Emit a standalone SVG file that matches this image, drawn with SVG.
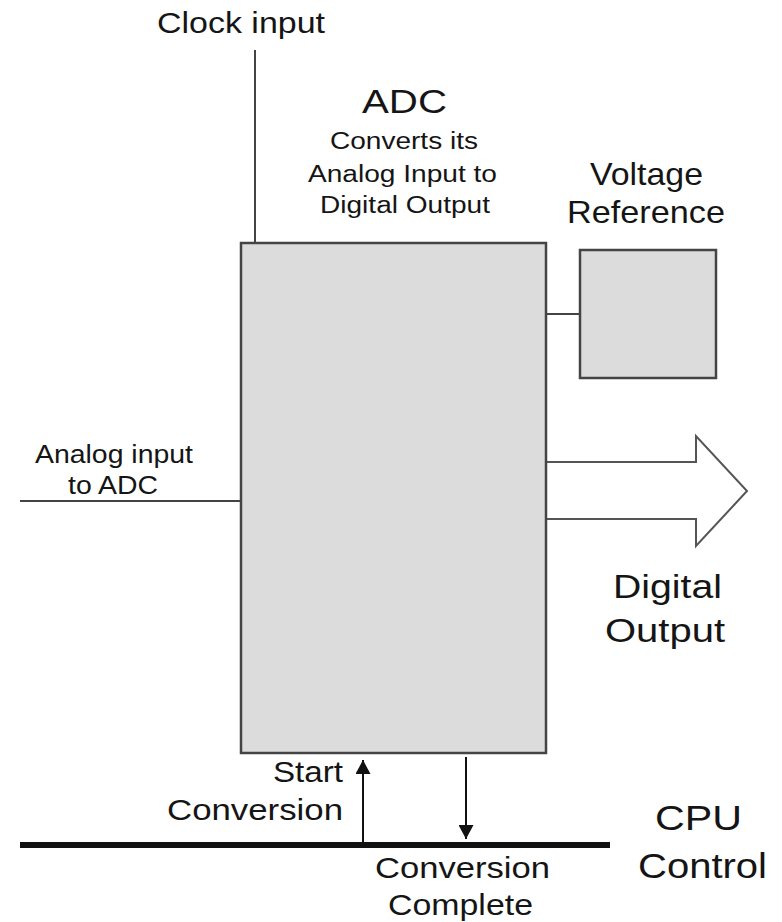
<svg xmlns="http://www.w3.org/2000/svg" width="782" height="922" viewBox="0 0 782 922">
<style>
.t{font-family:"Liberation Sans",Arial,sans-serif;fill:#151515}
.ln{stroke:#444;stroke-width:2;fill:none}
.box{fill:#dcdcdc;stroke:#444;stroke-width:2.5}
</style>
<defs>
<marker id="ah" viewBox="0 0 14 15" refX="14" refY="7.5" markerWidth="14" markerHeight="15" markerUnits="userSpaceOnUse" orient="auto">
<path d="M0,0 L14,7.5 L0,15 Z" fill="#111"/>
</marker>
</defs>
<rect width="782" height="922" fill="#fff"/>
<g id="connectors">
<line class="ln" x1="255" y1="50" x2="255" y2="242"/>
<line class="ln" x1="20" y1="501" x2="241" y2="501"/>
<line class="ln" x1="546" y1="314" x2="580" y2="314"/>
<path d="M546,462 H696 V436 L747,491 L696,546 V519 H546" fill="#fff" stroke="#555" stroke-width="2"/>
<line x1="363" y1="843" x2="363" y2="760" stroke="#111" stroke-width="2" marker-end="url(#ah)"/>
<line x1="466" y1="757" x2="466" y2="839" stroke="#111" stroke-width="2" marker-end="url(#ah)"/>
<line x1="20" y1="845" x2="610" y2="845" stroke="#111" stroke-width="6"/>
</g>
<g id="clock">
<text class="t" x="157" y="33" font-size="30" textLength="168" lengthAdjust="spacingAndGlyphs">Clock input</text>
</g>
<g id="adc">
<rect class="box" x="241" y="243" width="305" height="510"/>
<text class="t" x="362" y="113" font-size="34" textLength="85" lengthAdjust="spacingAndGlyphs">ADC</text>
<text class="t" x="330" y="149" font-size="23" textLength="148" lengthAdjust="spacingAndGlyphs">Converts its</text>
<text class="t" x="308" y="182" font-size="23" textLength="189" lengthAdjust="spacingAndGlyphs">Analog Input to</text>
<text class="t" x="320" y="213" font-size="23" textLength="170" lengthAdjust="spacingAndGlyphs">Digital Output</text>
</g>
<g id="vref">
<rect class="box" x="580" y="250" width="136" height="128"/>
<text class="t" x="590" y="185" font-size="32" textLength="113" lengthAdjust="spacingAndGlyphs">Voltage</text>
<text class="t" x="567" y="223" font-size="32" textLength="158" lengthAdjust="spacingAndGlyphs">Reference</text>
</g>
<g id="analog">
<text class="t" x="35" y="463" font-size="25" textLength="158" lengthAdjust="spacingAndGlyphs">Analog input</text>
<text class="t" x="68" y="494" font-size="25" textLength="90" lengthAdjust="spacingAndGlyphs">to ADC</text>
</g>
<g id="digital">
<text class="t" x="613" y="598" font-size="34" textLength="109" lengthAdjust="spacingAndGlyphs">Digital</text>
<text class="t" x="605" y="642" font-size="34" textLength="120" lengthAdjust="spacingAndGlyphs">Output</text>
</g>
<g id="start">
<text class="t" x="273" y="782" font-size="30" textLength="70" lengthAdjust="spacingAndGlyphs">Start</text>
<text class="t" x="167" y="820" font-size="30" textLength="176" lengthAdjust="spacingAndGlyphs">Conversion</text>
</g>
<g id="complete">
<text class="t" x="375" y="878" font-size="30" textLength="175" lengthAdjust="spacingAndGlyphs">Conversion</text>
<text class="t" x="388" y="915" font-size="30" textLength="145" lengthAdjust="spacingAndGlyphs">Complete</text>
</g>
<g id="cpu">
<text class="t" x="655" y="830" font-size="35" textLength="87" lengthAdjust="spacingAndGlyphs">CPU</text>
<text class="t" x="638" y="878" font-size="35" textLength="129" lengthAdjust="spacingAndGlyphs">Control</text>
</g>
</svg>
